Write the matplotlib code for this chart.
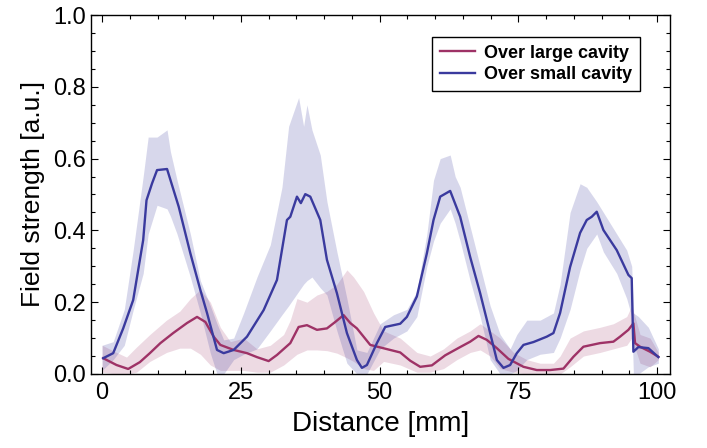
import matplotlib
matplotlib.use("Agg")
import matplotlib.pyplot as plt
from matplotlib.ticker import MultipleLocator
import numpy as np

# --- over small cavity: mean line ---
small_x = [0.2, 2.0, 3.8, 5.6, 7.4, 8.0, 9.0, 9.9, 11.7, 13.8, 15.9, 17.7, 18.9, 20.7, 21.9,
           23.7, 26.1, 29.1, 31.5, 33.3, 33.9, 35.1, 35.8, 36.6, 37.5, 39.3, 40.5, 42.3, 44.1,
           45.9, 46.8, 47.7, 49.5, 51.0, 52.5, 53.7, 54.9, 56.7, 58.5, 59.7, 60.9, 62.7, 64.5,
           66.3, 68.1, 69.9, 71.1, 72.3, 73.5, 74.7, 75.9, 77.7, 80.1, 81.3, 82.5, 84.3, 86.1,
           87.3, 88.2, 89.1, 90.3, 92.7, 94.8, 95.4, 95.7, 96.6, 98.4, 100.2]
small_y = [0.044, 0.058, 0.127, 0.206, 0.373, 0.484, 0.531, 0.568, 0.571, 0.466, 0.336, 0.234,
           0.17, 0.067, 0.058, 0.067, 0.104, 0.178, 0.262, 0.429, 0.438, 0.494, 0.476, 0.501,
           0.494, 0.429, 0.318, 0.225, 0.114, 0.039, 0.017, 0.025, 0.086, 0.131, 0.136, 0.140,
           0.159, 0.216, 0.336, 0.429, 0.494, 0.51, 0.438, 0.326, 0.225, 0.114, 0.039, 0.017,
           0.025, 0.058, 0.081, 0.089, 0.104, 0.114, 0.17, 0.298, 0.393, 0.429, 0.438, 0.452,
           0.401, 0.345, 0.276, 0.267, 0.062, 0.075, 0.072, 0.047]

# --- over small cavity: spread ---
small_bx = [0, 2, 4, 5.6, 7.4, 8.3, 9.9, 11.7, 12.3, 13.5, 15.9, 17.7, 19.5, 20.7, 21.9, 23.7,
            25.5, 27.9, 30.3, 32.4, 33.6, 35.4, 36.3, 36.9, 37.8, 39.3, 40.5, 42.3, 44.1, 45.9,
            47.7, 50.1, 52.5, 54.9, 56.7, 58.5, 59.7, 60.9, 62.7, 63.6, 64.5, 66.3, 68.1, 69.9,
            71.7, 73.5, 74.7, 76.5, 78.9, 81.3, 82.5, 84.3, 86.1, 87.3, 89.1, 90.3, 92.7, 94.5,
            95.4, 95.7, 96.6, 98.4, 100.2]
small_hi = [0.08, 0.09, 0.18, 0.345, 0.55, 0.66, 0.66, 0.68, 0.62, 0.54, 0.39, 0.26, 0.19, 0.14,
            0.095, 0.10, 0.17, 0.27, 0.36, 0.52, 0.69, 0.77, 0.69, 0.75, 0.68, 0.61, 0.48, 0.34,
            0.21, 0.067, 0.06, 0.14, 0.165, 0.18, 0.23, 0.39, 0.54, 0.60, 0.61, 0.55, 0.52, 0.41,
            0.30, 0.19, 0.11, 0.07, 0.11, 0.15, 0.15, 0.17, 0.25, 0.45, 0.53, 0.52, 0.48, 0.45,
            0.39, 0.345, 0.30, 0.17, 0.16, 0.13, 0.07]
small_lo = [0.01, 0.04, 0.08, 0.178, 0.28, 0.39, 0.47, 0.46, 0.44, 0.39, 0.27, 0.17, 0.058, 0.0,
            0.0, 0.04, 0.055, 0.07, 0.12, 0.165, 0.19, 0.23, 0.25, 0.26, 0.27, 0.24, 0.22, 0.12,
            0.03, 0.0, 0.0, 0.07, 0.10, 0.12, 0.16, 0.30, 0.37, 0.42, 0.46, 0.42, 0.37, 0.26,
            0.16, 0.04, 0.0, 0.0, 0.01, 0.04, 0.055, 0.06, 0.10, 0.18, 0.29, 0.35, 0.39, 0.34,
            0.28, 0.21, 0.16, 0.0, 0.0, 0.02, 0.03]

# --- over large cavity: mean line ---
large_x = [0.2, 2.6, 4.7, 6.8, 8.6, 10.5, 12.8, 15.3, 17.1, 18.6, 20.1, 21.3, 23.7, 26.1, 27.9,
           30.0, 31.5, 33.9, 35.4, 36.9, 38.7, 40.5, 42.0, 43.5, 44.7, 45.9, 48.3, 50.1, 53.7,
           55.5, 57.3, 59.4, 61.8, 64.5, 66.3, 67.8, 69.3, 71.1, 73.2, 75.9, 78.3, 80.7, 83.1,
           84.9, 86.7, 89.7, 92.1, 93.3, 94.8, 95.7, 96.0, 96.9, 98.7, 100.2]
large_y = [0.044, 0.025, 0.014, 0.033, 0.058, 0.086, 0.114, 0.142, 0.159, 0.145, 0.104, 0.081,
           0.067, 0.058, 0.047, 0.036, 0.053, 0.086, 0.131, 0.136, 0.123, 0.127, 0.145, 0.164,
           0.142, 0.127, 0.081, 0.074, 0.06, 0.037, 0.02, 0.024, 0.052, 0.075, 0.09, 0.106,
           0.095, 0.072, 0.042, 0.02, 0.011, 0.011, 0.015, 0.048, 0.076, 0.086, 0.09, 0.104,
           0.123, 0.141, 0.086, 0.076, 0.062, 0.048]

# --- over large cavity: spread ---
large_bx = [0, 2.6, 4.4, 6.2, 8.6, 11.6, 14, 15.9, 17.7, 19.5, 21.3, 23.1, 25.5, 27.9, 30.3,
            32.7, 33.9, 35.1, 36.9, 38.7, 40.5, 42.3, 44.1, 45.3, 47.1, 48.9, 50.7, 53.7, 56.7,
            59.1, 61.5, 63.9, 66.3, 68.1, 69.9, 71.7, 74.1, 76.5, 78.9, 81.3, 82.5, 84.3, 86.7,
            89.7, 92.1, 94.5, 95.4, 96.9, 98.7, 100.2]
large_hi = [0.08, 0.06, 0.047, 0.075, 0.11, 0.15, 0.175, 0.21, 0.235, 0.20, 0.13, 0.09, 0.10,
            0.07, 0.08, 0.11, 0.15, 0.21, 0.20, 0.22, 0.23, 0.25, 0.29, 0.27, 0.23, 0.17, 0.12,
            0.10, 0.06, 0.05, 0.07, 0.10, 0.12, 0.14, 0.12, 0.10, 0.06, 0.04, 0.03, 0.03, 0.05,
            0.10, 0.12, 0.13, 0.14, 0.16, 0.19, 0.11, 0.10, 0.06]
large_lo = [0.005, 0.0, 0.0, 0.005, 0.035, 0.06, 0.072, 0.072, 0.055, 0.025, 0.01, 0.01, 0.01,
            0.005, 0.005, 0.025, 0.04, 0.055, 0.067, 0.067, 0.065, 0.058, 0.045, 0.035, 0.015,
            0.01, 0.035, 0.025, 0.005, 0.005, 0.015, 0.04, 0.06, 0.067, 0.05, 0.015, 0.005, 0.0,
            0.0, 0.0, 0.0, 0.02, 0.05, 0.06, 0.07, 0.08, 0.10, 0.03, 0.02, 0.04]

RED = "#9e3266"
BLUE = "#3a3a9e"

plt.rcParams['font.family'] = ['Liberation Sans', 'DejaVu Sans']

fig = plt.figure(figsize=(7.07, 4.48), dpi=100)
ax = fig.add_axes([0.1287, 0.1652, 0.819, 0.8013])

ax.fill_between(large_bx, large_lo, large_hi, color=RED, alpha=0.18, linewidth=0)
ax.fill_between(small_bx, small_lo, small_hi, color=BLUE, alpha=0.2, linewidth=0)
ax.plot(large_x, large_y, color=RED, lw=1.7, label="Over large cavity")
ax.plot(small_x, small_y, color=BLUE, lw=1.7, label="Over small cavity")

ax.set_xlim(-2, 102.3)
ax.set_ylim(0, 1.0)
ax.xaxis.set_major_locator(MultipleLocator(25))
ax.xaxis.set_minor_locator(MultipleLocator(5))
ax.yaxis.set_major_locator(MultipleLocator(0.2))
ax.yaxis.set_minor_locator(MultipleLocator(0.05))
ax.yaxis.set_major_formatter(matplotlib.ticker.FormatStrFormatter('%.1f'))
ax.tick_params(which='both', direction='in', top=True, right=True, labelsize=17, width=0.8)
ax.tick_params(which='major', length=5)
ax.tick_params(which='minor', length=3)
ax.tick_params(axis='x', pad=6)
for s in ax.spines.values():
    s.set_linewidth(1.0)

ax.set_xlabel("Distance [mm]", fontsize=20, labelpad=5)
ax.set_ylabel("Field strength [a.u.]", fontsize=19, labelpad=6)

leg = ax.legend(loc='upper right', bbox_to_anchor=(0.948, 0.94), fancybox=False,
                edgecolor='black', framealpha=1, handlelength=1.9, borderpad=0.45,
                labelspacing=0.25, handletextpad=0.5, borderaxespad=0,
                prop={'weight': 'bold', 'size': 13})
leg.get_frame().set_linewidth(1.0)

fig.savefig("out.png", dpi=100)
